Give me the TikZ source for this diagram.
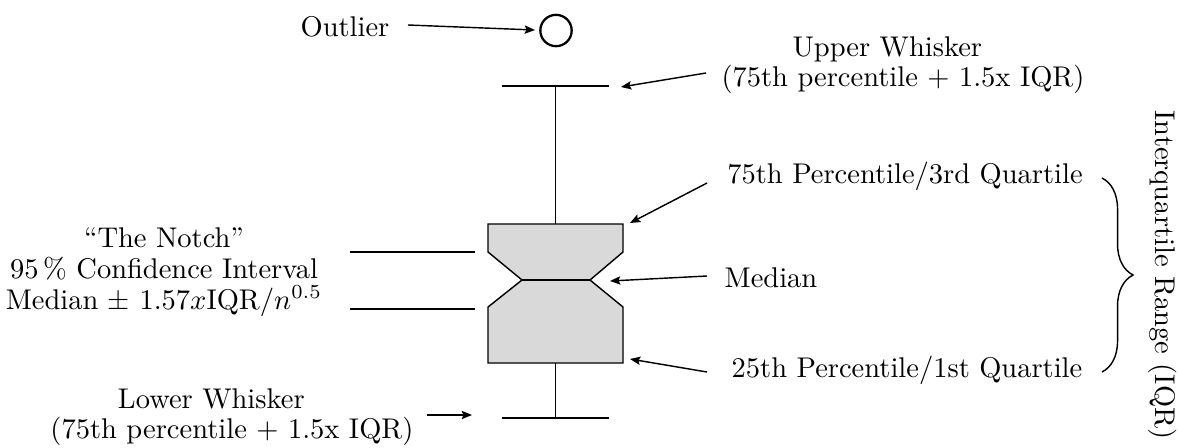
\documentclass[tikz,border=0pt]{standalone}
\usetikzlibrary{arrows.meta,decorations.pathreplacing}
\begin{document}
\begin{tikzpicture}[x=0.3509pt,y=-0.3509pt, line width=0.5pt,
  lbl/.style={inner sep=0pt, align=center, font=\fontsize{10}{10.3}\selectfont},
  arr/.style={-{Stealth[length=3.6pt,width=2.9pt,inset=0.6pt]}},
  boxfill/.style={fill={rgb,255:red,217;green,217;blue,217}, draw=black, line join=miter},
  plain/.style={draw=black}]
\useasboundingbox (0,0) rectangle (1178,447);
% box
\draw[boxfill] (488,224) -- (623,224) -- (623,252) -- (590,280) -- (623,307) -- (623,363)
  -- (488,363) -- (488,307) -- (522,280) -- (488,252) -- cycle;
\draw (522,280) -- (590,280);
% whiskers
\coordinate (wtop) at (555.5,86);
\coordinate (wbot) at (555.5,418);
\draw (wtop) -- (555.5,224);
\draw (555.5,363) -- (wbot);
\coordinate (ucapL) at (502,86); \coordinate (ucapR) at (609,86);
\coordinate (lcapL) at (502,418); \coordinate (lcapR) at (609,418);
\draw (ucapL) -- (ucapR);
\draw (lcapL) -- (lcapR);
% outlier
\node[circle, draw, line width=0.8pt, minimum size=11pt, inner sep=0pt] (circ) at (556,30.5) {};
% labels
\node[lbl] (outlier) at (345,27) {Outlier};
\node[lbl] (uw) at (903,65) {Upper Whisker\hspace*{11pt}\\(75th percentile $+$ 1.5x IQR)};
\node[lbl] (q3) at (905,176) {75th Percentile/3rd Quartile};
\node[lbl] (med) at (771,278) {Median};
\node[lbl] (q1) at (907,370) {25th Percentile/1st Quartile};
\node[lbl, font=\fontsize{10}{10.8}\selectfont] (notch) at (164,272) {``The Notch''\\95\,\% Confidence Interval\\Median $\pm$ $1.57x$IQR$/n^{0.5}$};
\node[lbl] (lw) at (232,417) {Lower Whisker\hspace*{14.5pt}\\(75th percentile $+$ 1.5x IQR)};
\node[lbl, rotate=-90] (iqr) at (1163,275) {Interquartile Range (IQR)};
% arrow endpoints
\coordinate (a1s) at (408,25); \coordinate (a1e) at (535,30);
\coordinate (a2s) at (706,73); \coordinate (a2e) at (621,87);
\coordinate (a3s) at (707,183); \coordinate (a3e) at (630,223);
\coordinate (a4s) at (707,276); \coordinate (a4e) at (610,281);
\coordinate (a5s) at (707,372); \coordinate (a5e) at (630,359);
\coordinate (a6s) at (427,415); \coordinate (a6e) at (472,415);
\draw[arr] (a1s) -- (a1e);
\draw[arr] (a2s) -- (a2e);
\draw[arr] (a3s) -- (a3e);
\draw[arr] (a4s) -- (a4e);
\draw[arr] (a5s) -- (a5e);
\draw[arr] (a6s) -- (a6e);
% notch lines
\coordinate (n1s) at (350,252); \coordinate (n1e) at (475,252);
\coordinate (n2s) at (350,309); \coordinate (n2e) at (475,309);
\draw (n1s) -- (n1e);
\draw (n2s) -- (n2e);
% brace
\coordinate (bt) at (1102,178); \coordinate (bb) at (1102,372);
\draw[decorate, decoration={brace, amplitude=10.9pt}] (bt) -- (bb);
\end{tikzpicture}
\end{document}
